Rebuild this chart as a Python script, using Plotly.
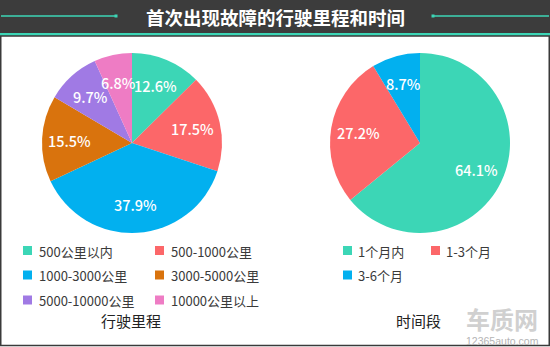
import math
import plotly.graph_objects as go

W, H = 550, 347

# ---- data ----
title_text = "首次出现故障的行驶里程和时间"
mileage_labels = ["500公里以内", "500-1000公里", "1000-3000公里", "3000-5000公里", "5000-10000公里", "10000公里以上"]
mileage_values = [12.6, 17.5, 37.9, 15.5, 9.7, 6.8]
mileage_colors = ["#3cd6b6", "#fc6769", "#02b0ef", "#d9730d", "#a07ae4", "#ee7cc4"]
mileage_caption = "行驶里程"

time_labels = ["1个月内", "1-3个月", "3-6个月"]
time_values = [64.1, 27.2, 8.7]
time_colors = ["#3cd6b6", "#fc6769", "#02b0ef"]
time_caption = "时间段"

FONT = "Noto Sans CJK SC, Noto Sans, sans-serif"
TEAL = "#3cd6b6"


def px(x):
    return x / W


def py(y):
    return 1 - y / H


fig = go.Figure()

# pie geometry (layout, pixels): center and radius
PIES = [
    (mileage_labels, mileage_values, mileage_colors, 132, 143, 90),
    (time_labels, time_values, time_colors, 420, 143, 90),
]

shapes = []
annotations = []

for labels, values, colors, cx, cy, R in PIES:
    fig.add_trace(go.Pie(
        labels=labels, values=values,
        marker=dict(colors=colors, line=dict(width=0)),
        sort=False, direction="clockwise", rotation=0,
        textinfo="none",
        domain=dict(x=[px(cx - R), px(cx + R)], y=[py(cy + R), py(cy - R)]),
        showlegend=False, hoverinfo="label+percent",
    ))
    # percentage labels placed at the mid-angle of each slice
    total = sum(values)
    cum = 0.0
    for v in values:
        mid = (cum + v / 2) / total * 2 * math.pi
        cum += v
        r = 0.69 * R
        lx = cx + r * math.sin(mid)
        ly = cy - r * math.cos(mid)
        annotations.append(dict(text=f"{v / total * 100:.1f}%", x=px(lx), y=py(ly), xref="paper", yref="paper",
                                showarrow=False, xanchor="center", yanchor="middle",
                                font=dict(family="Noto Sans CJK SC, Noto Sans, sans-serif", size=14.5,
                                          color="white", weight=500)))

# header band
shapes.append(dict(type="rect", xref="paper", yref="paper", x0=0, x1=1, y0=py(33), y1=1,
                   fillcolor="#3c3c3c", line=dict(width=0), layer="below"))
shapes.append(dict(type="rect", xref="paper", yref="paper", x0=0, x1=1, y0=py(36), y1=py(33),
                   fillcolor=TEAL, line=dict(width=0), layer="below"))
# decorative lines in header
shapes.append(dict(type="line", xref="paper", yref="paper", x0=px(1), x1=px(116), y0=py(16), y1=py(16),
                   line=dict(color=TEAL, width=1.5)))
shapes.append(dict(type="line", xref="paper", yref="paper", x0=px(433), x1=px(549), y0=py(16), y1=py(16),
                   line=dict(color=TEAL, width=1.5)))
for dx in (116, 433):
    shapes.append(dict(type="rect", xref="paper", yref="paper", x0=px(dx - 1.5), x1=px(dx + 1.5),
                       y0=py(17.5), y1=py(14.5), fillcolor=TEAL, line=dict(width=0)))
# frame
shapes.append(dict(type="rect", xref="paper", yref="paper", x0=px(0.75), x1=px(549.25), y0=py(345.5), y1=py(36),
                   fillcolor="rgba(0,0,0,0)", line=dict(color="#3a3a3a", width=1.5)))

annotations.append(dict(text="<b>" + title_text + "</b>", x=px(275), y=py(16.5), xref="paper", yref="paper",
                        showarrow=False, xanchor="center", yanchor="middle",
                        font=dict(family=FONT, size=18.5, color="white")))


def add_legend(labels, colors, x_cols, text_offset, y_rows):
    for i, (lab, col) in enumerate(zip(labels, colors)):
        c = i % 2
        r = i // 2
        sx = x_cols[c]
        sy = y_rows[r]
        shapes.append(dict(type="rect", xref="paper", yref="paper",
                           x0=px(sx), x1=px(sx + 9), y0=py(sy + 4.5), y1=py(sy - 4.5),
                           fillcolor=col, line=dict(width=0)))
        annotations.append(dict(text=lab, x=px(sx + text_offset), y=py(sy + 0.5), xref="paper", yref="paper",
                                showarrow=False, xanchor="left", yanchor="middle",
                                font=dict(family=FONT, size=13, color="#3a3a3a")))


add_legend(mileage_labels, mileage_colors, [23, 155], 13.5, [250.5, 275, 300])
add_legend(time_labels, time_colors, [343, 431], 13, [250.5, 275])

annotations.append(dict(text=mileage_caption, x=px(131), y=py(320), xref="paper", yref="paper",
                        showarrow=False, xanchor="center", yanchor="middle",
                        font=dict(family=FONT, size=15, color="#222222")))
annotations.append(dict(text=time_caption, x=px(418), y=py(320), xref="paper", yref="paper",
                        showarrow=False, xanchor="center", yanchor="middle",
                        font=dict(family=FONT, size=15, color="#222222")))

# watermark
annotations.append(dict(text="<b>车质网</b>", x=px(502), y=py(318), xref="paper", yref="paper",
                        showarrow=False, xanchor="center", yanchor="middle",
                        font=dict(family=FONT, size=24, color="#d0d0d0")))
annotations.append(dict(text="12365auto.com", x=px(502), y=py(341), xref="paper", yref="paper",
                        showarrow=False, xanchor="center", yanchor="middle",
                        font=dict(family="Liberation Sans, Arial, sans-serif", size=10.5, color="#b4b4b4")))

fig.update_layout(
    width=W, height=H,
    margin=dict(l=0, r=0, t=0, b=0, autoexpand=False),
    paper_bgcolor="white", plot_bgcolor="white",
    shapes=shapes, annotations=annotations,
    font=dict(family=FONT),
)

fig.write_html("out.html")
